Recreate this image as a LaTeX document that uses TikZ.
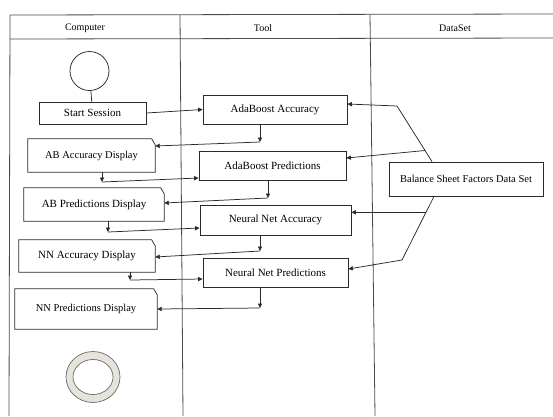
\documentclass[tikz,border=0pt]{standalone}
\usepackage{fontspec}
\setmainfont{Liberation Serif}
\usetikzlibrary{arrows.meta,calc,shapes.geometric}
\definecolor{ln}{HTML}{2A2A2A}
\definecolor{ring}{HTML}{E6E4DA}
\tikzset{
  box/.style={draw=ln, line width=0.75pt, rectangle, inner sep=0pt, font=\fontsize{11}{13}\selectfont},
  nbox/.style={draw=none, rectangle, inner sep=0pt, font=\fontsize{10.5}{13}\selectfont},
  outline/.style={draw=ln, line width=0.75pt},
  arr/.style={draw=ln, line width=0.75pt, -{Triangle[length=4.5pt,width=4.2pt]}},
  conn/.style={draw=ln, line width=0.75pt},
  frame/.style={draw=ln!85, line width=0.8pt},
  head/.style={font=\fontsize{10}{12}\selectfont},
}
\begin{document}
\begin{tikzpicture}[x=1pt,y=-1pt]
\useasboundingbox (0,0) rectangle (553,416);
% swimlane frame
\coordinate (tl) at (10,15);
\coordinate (tr) at (553,14);
\coordinate (hl) at (10,39);
\coordinate (hr) at (553,38);
\coordinate (bl) at (9,416);
\coordinate (t1) at (180,15);
\coordinate (b1l) at (183,416);
\coordinate (t2) at (370,14.5);
\coordinate (b2l) at (375,416);
\draw[frame] (tl) -- (tr);
\draw[frame] (hl) -- (hr);
\draw[frame] (tl) -- (bl);
\draw[frame] (t1) -- (b1l);
\draw[frame] (t2) -- (b2l);
\node[head] (hc) at (85,28) {Computer};
\node[head] (ht) at (263,28) {Tool};
\node[head] (hd) at (455,28) {DataSet};

% nodes
\node[draw=ln, line width=0.75pt, circle, minimum size=39pt, inner sep=0pt] (start) at (89.5,71) {};
\node[box, minimum width=107pt, minimum height=22pt] (ss) at (92.5,113) {Start Session};
\node[box, minimum width=144pt, minimum height=29pt] (aba) at (275,109.5) {AdaBoost Accuracy};
\node[nbox, minimum width=127pt, minimum height=33pt] (abad) at (91.5,155.5) {AB Accuracy Display};
\node[box, minimum width=147pt, minimum height=29pt] (abp) at (272.5,165.5) {AdaBoost Predictions};
\node[nbox, minimum width=140pt, minimum height=33pt, font=\fontsize{11}{13}\selectfont] (abpd) at (94,204.5) {AB Predictions Display};
\node[box, minimum width=151pt, minimum height=30pt] (nna) at (275.5,220) {Neural Net Accuracy};
\node[nbox, minimum width=136pt, minimum height=32pt, font=\fontsize{11}{13}\selectfont] (nnad) at (87,256) {NN Accuracy Display};
\node[box, minimum width=145pt, minimum height=29pt] (nnp) at (275.5,272.5) {Neural Net Predictions};
\node[nbox, minimum width=142pt, minimum height=40pt] (nnpd) at (86,309) {NN Predictions Display};
\node[box, minimum width=154pt, minimum height=34pt, font=\fontsize{10.5}{13}\selectfont] (bs) at (466,179) {Balance Sheet Factors Data Set};
% end node
\node[draw=ln!70, line width=0.7pt, fill=ring, ellipse, minimum width=54pt, minimum height=51pt, inner sep=0pt] (endo) at (93,377) {};
\node[draw=ln!70, line width=0.7pt, fill=white, ellipse, minimum width=40pt, minimum height=35pt, inner sep=0pt] (endi) at (93,377) {};

% notched display boxes
\foreach \n in {abad,abpd,nnad,nnpd}
  \draw[outline] (\n.south west) -- (\n.north west) -- ([xshift=-3.5pt]\n.north east) -- ([yshift=-6pt]\n.north east) -- (\n.south east) -- cycle;

% flow connectors
\draw[conn] (start) -- (ss);
\draw[arr] (ss.east) -- (aba.west);

\coordinate (j1) at (260,142);
\draw[arr] (aba.south -| j1) -- (j1);
\draw[arr] (j1) -- ([yshift=9.5pt]abad.east);

\coordinate (j2) at (102,182);
\draw[arr] (abad.south -| j2) -- (j2);
\draw[arr] (j2) -- ([yshift=-12.5pt]abp.west);

\coordinate (j3) at (268,198);
\draw[arr] (abp.south -| j3) -- (j3);
\draw[arr] (j3) -- ([yshift=1.5pt]abpd.east);

\coordinate (j4) at (108,232);
\draw[arr] (abpd.south -| j4) -- (j4);
\draw[arr] (j4) -- ([yshift=-8pt]nna.west);

\coordinate (j5) at (260,251);
\draw[arr] (nna.south -| j5) -- (j5);
\draw[arr] (j5) -- ([yshift=-1pt]nnad.east);

\coordinate (j6) at (130,280);
\draw[arr] (nnad.south -| j6) -- (j6);
\draw[arr] (j6) -- ([yshift=-6.5pt]nnp.west);

\coordinate (j7) at (260,308);
\draw[arr] (nnp.south -| j7) -- (j7);
\draw[arr] (j7) -- (nnpd.east);

% dataset connectors
\coordinate (bt) at ([xshift=-34pt]bs.north);
\coordinate (k1) at (397,106);
\draw[arr] (bt) -- (k1) -- ([yshift=5.5pt]aba.east);
\coordinate (k2) at ($(bt)!0.2!(k1)$);
\draw[arr] (k2) -- ([yshift=7.5pt]abp.east);
\coordinate (bb) at ([xshift=-32pt]bs.south);
\coordinate (k3) at (402,260);
\coordinate (k4) at ($(bb)!0.25!(k3)$);
\draw[arr] (k4) -- (k4 -| nna.east);
\draw[arr] (bb) -- (k3) -- ([yshift=3.5pt]nnp.east);
\end{tikzpicture}
\end{document}
